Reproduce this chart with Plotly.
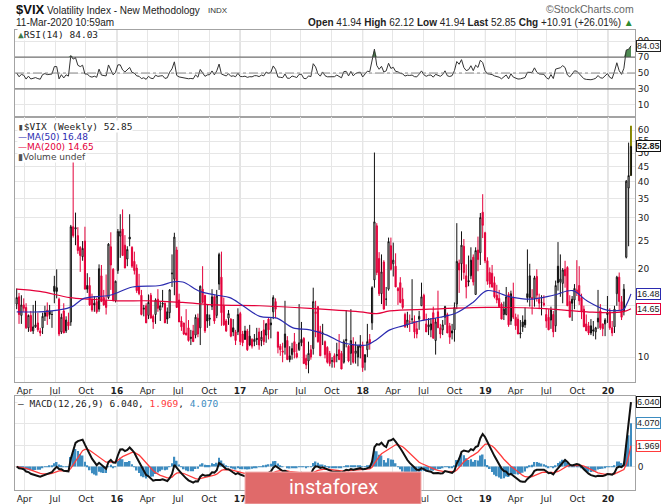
import numpy as np
import pandas as pd
import plotly.graph_objects as go

# weekly $VIX candles, week of 9-Mar-2015 up to the current week (11-Mar-2020)
first_week = "2015-03-09"

opens = [
    # 2015
    15.2, 16.1, 13.9, 15.1, 14.8, 12.6, 13.9, 12.3, 12.7, 13.1, 12.3, 12.6, 13.8, 14.5, 14.4, 14.0,
    17.5, 17.3, 15.8, 12.2, 14.4, 12.3, 13.2, 13.2, 28.0, 27.5, 26.1, 23.8, 22.1, 25.0, 17.6, 17.6,
    15.7, 15.3, 15.5, 14.6, 19.0, 16.0, 15.6, 16.0, 23.9, 20.0, 15.6,
    # 2016
    19.8, 26.0, 27.5, 24.2, 21.7, 25.8, 23.8, 21.3, 20.2, 17.4, 16.3, 14.6, 15.0, 13.9, 16.3, 13.8,
    14.0, 15.8, 14.5, 15.3, 15.3, 14.3, 14.2, 19.3, 18.5, 23.3, 15.7, 13.3, 13.1, 12.1, 12.6, 11.7,
    12.3, 11.9, 13.6, 12.6, 17.1, 16.3, 14.0, 13.6, 14.9, 16.1, 13.9, 17.8, 18.8, 15.0, 13.3, 13.6,
    13.5, 12.6, 12.2, 12.2,
    # 2017
    14.1, 12.0, 12.3, 12.3, 11.8, 11.5, 11.3, 11.6, 12.2, 11.4, 12.4, 11.9, 13.5, 13.1, 14.3, 15.5,
    12.2, 10.9, 10.5, 10.8, 11.4, 10.1, 10.2, 11.3, 10.3, 10.6, 11.5, 11.6, 9.9, 9.7, 10.6, 10.7,
    14.1, 14.9, 12.3, 12.0, 11.3, 10.8, 10.3, 9.7, 10.1, 10.1, 10.6, 10.3, 9.6, 11.5, 10.9, 10.3,
    11.0, 10.3, 10.0, 10.8,
    # 2018
    10.9, 9.6, 10.6, 11.5, 13.1, 18.4, 28.2, 21.8, 16.5, 21.2, 15.8, 17.1, 24.1, 20.9, 20.5, 17.2,
    18.0, 15.8, 14.0, 12.9, 13.2, 13.5, 13.3, 12.5, 13.5, 15.0, 16.3, 13.0, 12.7, 12.4, 14.2, 11.4,
    14.3, 12.6, 12.4, 13.7, 14.0, 12.8, 12.3, 12.4, 15.2, 21.0, 20.9, 24.0, 19.0, 18.3, 19.0, 22.0,
    16.4, 23.3, 22.8, 31.4,
    # 2019
    26.7, 21.4, 19.5, 19.4, 18.0, 16.3, 15.9, 15.2, 14.0, 14.0, 16.4, 13.3, 16.0, 13.7, 13.5, 12.0,
    13.2, 13.4, 16.5, 19.0, 16.0, 15.9, 18.9, 15.8, 15.4, 15.3, 14.0, 13.7, 13.4, 14.0, 12.8, 20.5,
    18.1, 17.9, 20.0, 20.3, 15.5, 15.8, 15.7, 16.6, 17.6, 16.0, 14.6, 13.0, 12.8, 12.8, 12.4, 12.2,
    13.2, 14.4, 13.0, 13.0,
    # 2020
    14.2, 14.3, 12.6, 12.7, 16.5, 18.8, 15.5, 14.3, 22.0, 38.0, 41.94,
]

highs = [
    17.2, 16.6, 16.3, 15.9, 15.3, 14.0, 14.4, 15.1, 15.6, 14.2, 12.6, 14.2, 15.0, 15.4, 15.1, 14.4,
    19.0, 20.0, 16.0, 14.1, 15.3, 13.8, 14.2, 28.4, 53.3, 31.3, 27.9, 24.0, 25.0, 28.0, 19.4, 18.8,
    16.5, 16.2, 16.0, 20.8, 20.7, 17.0, 19.2, 24.6, 26.8, 20.2, 18.3,
    27.5, 30.9, 32.1, 26.2, 24.0, 30.9, 24.0, 23.0, 20.8, 19.3, 17.0, 15.1, 15.3, 16.4, 16.6, 14.0,
    15.9, 17.1, 15.5, 17.0, 15.4, 14.8, 17.1, 22.5, 26.7, 23.9, 16.5, 13.8, 13.1, 14.6, 13.4, 12.4,
    12.9, 14.0, 14.1, 17.6, 20.5, 16.3, 15.1, 14.0, 17.1, 16.3, 17.0, 22.8, 23.0, 16.0, 13.5, 14.5,
    13.6, 13.5, 12.4, 14.7,
    14.3, 12.3, 12.8, 12.5, 12.9, 11.6, 12.0, 12.6, 12.6, 12.3, 13.4, 13.1, 13.6, 13.6, 16.3, 15.9,
    12.2, 11.1, 11.2, 15.6, 11.8, 10.9, 11.2, 12.1, 11.1, 15.2, 13.2, 11.7, 10.2, 11.3, 11.0, 17.3,
    15.6, 14.9, 12.8, 13.0, 11.4, 10.9, 10.5, 10.0, 10.3, 11.2, 12.0, 10.5, 11.5, 14.5, 11.0, 14.6,
    11.7, 11.3, 11.0, 11.9,
    11.3, 10.2, 13.0, 12.0, 17.5, 50.3, 28.8, 22.9, 22.5, 21.5, 17.4, 25.7, 25.7, 24.7, 22.7, 17.4,
    18.8, 17.3, 14.2, 14.3, 14.0, 18.5, 13.9, 13.3, 14.4, 18.0, 16.5, 14.1, 13.6, 13.6, 14.9, 13.6,
    16.9, 13.0, 13.4, 15.0, 14.2, 13.1, 13.0, 15.4, 28.8, 21.6, 27.0, 25.4, 20.8, 22.3, 23.8, 22.5,
    23.8, 25.9, 31.2, 36.2,
    26.9, 22.0, 20.3, 20.7, 18.9, 17.7, 17.0, 15.4, 15.5, 17.4, 16.7, 16.9, 18.0, 14.1, 14.0, 13.4,
    13.9, 14.8, 23.4, 20.9, 17.1, 19.0, 20.0, 16.5, 16.3, 16.3, 14.7, 14.6, 14.9, 14.4, 18.3, 24.8,
    22.5, 20.2, 21.4, 20.5, 16.3, 16.2, 17.8, 21.5, 20.5, 16.5, 15.0, 14.0, 13.2, 13.5, 13.3, 12.7,
    17.0, 15.2, 13.0, 13.6,
    16.2, 14.7, 13.3, 15.0, 19.0, 19.5, 16.2, 17.8, 40.5, 54.4, 62.12,
]

lows = [
    14.6, 13.0, 13.0, 14.3, 12.5, 12.2, 12.2, 12.0, 12.6, 12.2, 11.8, 12.0, 13.3, 12.9, 13.5, 12.6,
    15.3, 15.9, 11.8, 12.0, 12.1, 12.1, 12.4, 12.8, 25.7, 24.2, 22.6, 19.6, 21.4, 17.1, 16.6, 15.0,
    14.3, 14.3, 14.1, 14.3, 15.5, 15.0, 14.0, 15.8, 17.0, 15.5, 15.4,
    19.3, 21.9, 22.3, 20.2, 20.5, 24.0, 20.2, 19.2, 16.6, 16.3, 13.9, 13.8, 13.1, 13.5, 13.6, 12.5,
    13.0, 14.3, 13.3, 14.8, 13.1, 13.0, 13.6, 17.4, 16.3, 14.8, 13.2, 12.3, 11.9, 11.9, 11.3, 11.0,
    11.3, 11.6, 11.7, 11.0, 15.3, 12.1, 12.6, 12.8, 14.5, 13.0, 13.6, 17.0, 12.8, 12.8, 12.2, 12.9,
    11.7, 11.8, 11.0, 11.9,
    11.0, 10.9, 11.5, 10.5, 10.9, 10.7, 10.9, 11.0, 10.6, 10.9, 11.0, 11.2, 11.5, 11.6, 13.5, 13.6,
    10.3, 10.1, 9.6, 10.2, 9.8, 9.6, 9.8, 9.9, 9.9, 10.5, 10.9, 9.5, 9.1, 8.8, 9.8, 10.2,
    11.7, 11.2, 10.1, 11.0, 9.9, 9.5, 9.3, 9.2, 9.2, 9.6, 9.8, 9.1, 9.5, 10.8, 9.6, 9.4,
    9.5, 9.5, 9.3, 9.9,
    8.9, 9.0, 10.0, 10.6, 12.4, 17.3, 19.1, 16.2, 15.2, 14.6, 15.0, 16.9, 19.8, 18.9, 17.4, 15.1,
    15.3, 14.6, 12.6, 12.6, 12.2, 13.0, 11.6, 11.6, 12.4, 15.0, 13.4, 12.2, 11.9, 11.7, 11.6, 10.2,
    12.6, 11.6, 11.9, 12.9, 12.1, 11.1, 11.5, 11.3, 14.6, 16.6, 18.3, 18.5, 15.9, 17.5, 18.5, 17.6,
    16.4, 19.7, 20.7, 25.6,
    21.0, 17.7, 17.3, 17.3, 15.9, 15.3, 14.8, 13.5, 13.4, 13.9, 12.7, 12.9, 13.5, 12.4, 12.0, 11.6,
    12.2, 12.6, 15.4, 14.9, 14.0, 14.9, 15.5, 14.6, 13.9, 14.9, 12.6, 12.4, 12.5, 11.7, 12.2, 16.9,
    16.1, 15.3, 17.3, 15.0, 13.7, 13.3, 14.6, 16.2, 15.1, 13.5, 12.7, 12.3, 11.9, 11.9, 11.8, 11.5,
    12.5, 12.4, 11.8, 11.8,
    13.1, 12.4, 11.8, 12.1, 15.0, 14.5, 13.4, 13.9, 21.8, 24.0, 41.94,
]

closes = [
    16.0, 14.0, 15.1, 14.7, 12.6, 13.9, 12.3, 12.7, 12.9, 12.4, 12.1, 13.8, 14.2, 13.8, 14.0, 14.0,
    16.8, 16.8, 12.0, 13.7, 12.1, 13.4, 12.8, 28.0, 26.1, 27.8, 23.2, 22.3, 23.6, 17.1, 17.1, 15.1,
    14.5, 15.1, 14.3, 20.1, 15.5, 15.1, 14.8, 24.4, 20.7, 15.7, 18.2,
    27.0, 27.0, 22.3, 20.2, 23.4, 25.4, 20.5, 19.8, 16.9, 16.5, 14.0, 14.7, 13.1, 15.4, 13.6, 13.2,
    15.7, 14.7, 15.0, 15.2, 13.1, 13.5, 17.0, 19.4, 25.8, 14.8, 13.2, 12.7, 12.0, 11.9, 11.4, 11.6,
    11.3, 13.7, 12.0, 17.5, 15.4, 12.3, 13.3, 13.5, 16.1, 13.3, 16.2, 22.5, 14.2, 12.9, 12.3, 14.1,
    11.8, 12.2, 11.4, 14.0,
    11.3, 11.2, 11.5, 10.6, 11.0, 10.9, 11.5, 11.5, 11.0, 11.7, 11.3, 13.0, 12.4, 12.9, 16.0, 14.6,
    10.8, 10.6, 10.4, 12.0, 9.8, 9.8, 10.7, 10.4, 10.0, 11.2, 11.2, 9.5, 9.4, 10.3, 10.0, 15.5,
    14.3, 11.3, 10.1, 12.1, 10.2, 9.6, 9.5, 9.7, 9.6, 10.2, 9.8, 9.1, 11.3, 11.4, 9.7, 11.4,
    9.6, 10.5, 10.9, 11.0,
    9.2, 10.2, 11.3, 11.1, 17.3, 29.1, 19.5, 16.5, 19.6, 14.6, 15.8, 24.9, 20.0, 21.5, 17.4, 16.9,
    15.4, 14.8, 12.7, 13.4, 13.2, 13.5, 12.2, 12.0, 13.8, 16.1, 13.4, 12.2, 12.9, 13.0, 11.6, 13.2,
    12.6, 12.0, 12.9, 14.9, 12.1, 11.7, 12.1, 14.8, 21.3, 19.9, 24.2, 19.5, 17.4, 18.1, 21.5, 18.1,
    23.2, 21.6, 30.1, 28.3,
    21.4, 18.2, 17.8, 17.4, 16.1, 15.7, 14.9, 13.5, 14.6, 16.1, 12.9, 16.5, 13.7, 12.8, 12.0, 12.1,
    12.7, 12.9, 16.0, 16.0, 15.9, 18.7, 16.3, 15.3, 15.4, 15.1, 13.3, 12.4, 14.5, 12.2, 17.6, 18.0,
    18.5, 19.9, 19.0, 15.0, 13.7, 15.3, 17.2, 17.0, 15.6, 14.3, 12.7, 12.3, 12.1, 12.1, 12.3, 12.6,
    13.6, 12.6, 12.5, 13.4,
    14.0, 12.6, 12.1, 14.6, 18.8, 15.5, 13.7, 17.1, 40.1, 41.94, 52.85,
]

# moving averages as drawn on the chart
ma50_dates = ["2015-03-09", "2015-05-15", "2015-07-09", "2015-08-21", "2015-09-25", "2015-12-11",
              "2016-02-17", "2016-05-08", "2016-06-15", "2016-07-15", "2016-09-04", "2016-10-24", "2016-12-02",
              "2017-01-10", "2017-03-01", "2017-04-21", "2017-06-08", "2017-07-28", "2017-09-17", "2017-11-03",
              "2017-12-15", "2018-01-14", "2018-02-12", "2018-03-23", "2018-05-01", "2018-06-20", "2018-07-20",
              "2018-08-19", "2018-10-08", "2018-11-25", "2019-01-06", "2019-03-15", "2019-05-13", "2019-07-22",
              "2019-09-18", "2019-10-30", "2019-12-29", "2020-02-17", "2020-02-24", "2020-03-02", "2020-03-09"]
ma50_vals = [14.3, 14.3, 14.5, 14.9, 15.9, 16.3,
             17.4, 17.6, 18.1, 18.1, 16.8, 16.3, 16.0,
             15.0, 13.8, 13.6, 12.6, 12.4, 11.9, 11.2,
             11.0, 11.0, 11.5, 12.4, 12.8, 13.3, 13.5,
             13.7, 14.2, 15.4, 16.9, 16.1, 15.8, 16.3,
             16.9, 15.6, 14.5, 14.6, 15.1, 15.7, 16.48]

ma200_dates = ["2015-03-09", "2015-05-17", "2015-08-14", "2015-10-13", "2016-01-01", "2016-04-08",
               "2016-07-15", "2016-10-24", "2017-03-01", "2017-07-28", "2017-12-24", "2018-02-12",
               "2018-03-23", "2018-07-20", "2019-01-06", "2019-06-12", "2019-10-30", "2020-01-16",
               "2020-02-24", "2020-03-09"]
ma200_vals = [17.1, 16.8, 16.0, 15.8, 15.6, 15.6,
              15.4, 15.1, 15.0, 14.7, 14.3, 14.1,
              14.4, 14.6, 14.8, 14.7, 14.3, 14.2,
              14.4, 14.65]

# indicator readouts printed on the chart
rsi_last = 84.03
macd_last, signal_last, hist_last = 6.040, 1.969, 4.070

tick_dates = ["2015-04-01", "2015-07-01", "2015-10-01", "2016-01-01", "2016-04-01", "2016-07-01",
              "2016-10-01", "2017-01-01", "2017-04-01", "2017-07-01", "2017-10-01", "2018-01-01",
              "2018-04-01", "2018-07-01", "2018-10-01", "2019-01-01", "2019-04-01", "2019-07-01",
              "2019-10-01", "2020-01-01"]
tick_text = ["Apr", "Jul", "Oct", "<b>16</b>", "Apr", "Jul", "Oct", "<b>17</b>", "Apr", "Jul", "Oct",
             "<b>18</b>", "Apr", "Jul", "Oct", "<b>19</b>", "Apr", "Jul", "Oct", "<b>20</b>"]

dates = pd.date_range(first_week, periods=len(closes), freq="7D")
o, h, l, c = (np.array(v, dtype=float) for v in (opens, highs, lows, closes))

# RSI(14), Wilder smoothing, starting from a neutral state
delta = np.diff(c, prepend=c[0])
avg_gain = avg_loss = 0.8
rsi = []
for d in delta:
    avg_gain = (avg_gain * 13 + max(d, 0)) / 14
    avg_loss = (avg_loss * 13 + max(-d, 0)) / 14
    rsi.append(100 - 100 / (1 + avg_gain / avg_loss))
rsi = np.array(rsi)

# MACD(12,26,9)
cs = pd.Series(c)
macd = cs.ewm(span=12, adjust=False).mean() - cs.ewm(span=26, adjust=False).mean()
signal = macd.ewm(span=9, adjust=False).mean()
hist = macd - signal

# canvas geometry: positions are given in reference pixels (665x504); the page
# is photographed from a slightly taller viewport, so the figure is stretched to it
REF_H = 504
VIEW_H = 516
K = VIEW_H / REF_H
W, H = 665, VIEW_H
ML, MR, MT, MB = 15, 30, 29 * K, 14 * K


def fx(px):
    return (px - ML) / (W - ML - MR)


def fy(py):
    return (490 - py) / 461


RED = "#e4003a"
BLUE = "#2b2bb0"
HIST = "#3d8cc0"

fig = go.Figure()

# ---- RSI panel
fig.add_trace(go.Scatter(x=dates, y=np.full(len(dates), 70.0), mode="lines",
                         line=dict(width=0), xaxis="x", yaxis="y", hoverinfo="skip"))
fig.add_trace(go.Scatter(x=dates, y=np.maximum(rsi, 70), mode="lines", line=dict(width=0),
                         fill="tonexty", fillcolor="#4e8a52", xaxis="x", yaxis="y", hoverinfo="skip"))
fig.add_trace(go.Scatter(x=dates, y=rsi, mode="lines", line=dict(color="#333333", width=1),
                         xaxis="x", yaxis="y"))

# ---- price panel: black = close above prior close, red = below; hollow = close above open
prev = np.r_[c[0], c[:-1]]
up = c >= prev
past = np.arange(len(c)) < len(c) - 1
for mask, col in ((up & past, "#111111"), (~up & past, RED)):
    fig.add_trace(go.Candlestick(
        x=dates[mask], open=o[mask], high=h[mask], low=l[mask], close=c[mask],
        increasing=dict(line=dict(color=col, width=1), fillcolor="white"),
        decreasing=dict(line=dict(color=col, width=1), fillcolor=col),
        whiskerwidth=0, xaxis="x2", yaxis="y2", hoverinfo="skip"))

# current bar highlighted in yellow
fig.add_trace(go.Bar(x=dates[-1:], y=h[-1:] - l[-1:], base=l[-1:], width=4.5 * 86400000,
                     marker=dict(color="#ffff00", line=dict(width=0)), xaxis="x2", yaxis="y2"))
fig.add_trace(go.Candlestick(
    x=dates[-1:], open=o[-1:], high=h[-1:], low=l[-1:], close=c[-1:],
    increasing=dict(line=dict(color="#111111", width=1), fillcolor="rgba(0,0,0,0)"),
    decreasing=dict(line=dict(color="#111111", width=1), fillcolor="#111111"),
    whiskerwidth=0, xaxis="x2", yaxis="y2", hoverinfo="skip"))

fig.add_trace(go.Scatter(x=ma200_dates, y=ma200_vals, mode="lines", line=dict(color=RED, width=1.2, shape="spline"),
                         xaxis="x2", yaxis="y2"))
fig.add_trace(go.Scatter(x=ma50_dates, y=ma50_vals, mode="lines", line=dict(color=BLUE, width=1.2, shape="spline"),
                         xaxis="x2", yaxis="y2"))

# ---- MACD panel
fig.add_trace(go.Bar(x=dates, y=hist, marker=dict(color=HIST, line=dict(width=0)), xaxis="x3", yaxis="y3"))
fig.add_trace(go.Scatter(x=dates, y=signal, mode="lines", line=dict(color="#ff3b3b", width=1.3),
                         xaxis="x3", yaxis="y3"))
fig.add_trace(go.Scatter(x=dates, y=macd, mode="lines", line=dict(color="#111111", width=2),
                         xaxis="x3", yaxis="y3"))

x_range = ["2015-03-04", "2020-03-21"]
axis_font = dict(family="DejaVu Sans", size=9, color="#222222")
xbase = dict(type="date", range=x_range, tickvals=tick_dates, ticktext=tick_text, showgrid=True,
             gridcolor="#e6e6e6", showline=True, mirror=True, linecolor="#a3a3a3", ticks="",
             zeroline=False, tickfont=axis_font, rangeslider=dict(visible=False), fixedrange=True)
ybase = dict(side="right", showgrid=True, gridcolor="#e6e6e6", showline=True, mirror=True,
             linecolor="#a3a3a3", ticks="", zeroline=False, tickfont=axis_font, fixedrange=True)

fig.update_layout(
    width=W, height=H, margin=dict(l=ML, r=MR, t=MT, b=MB),
    paper_bgcolor="white", plot_bgcolor="white", showlegend=False, bargap=0.3,
    font=dict(family="DejaVu Sans", size=9, color="#222222"),
    xaxis=dict(xbase, anchor="y", showticklabels=False),
    xaxis2=dict(xbase, anchor="y2", matches="x"),
    xaxis3=dict(xbase, anchor="y3", matches="x"),
    yaxis=dict(ybase, domain=[fy(116), 1], range=[-5, 104], tickvals=[10, 30, 50, 70, 90]),
    yaxis2=dict(ybase, domain=[fy(382), fy(116)], type="log", range=[np.log10(8.2), np.log10(66.7)],
                tickvals=[10, 15, 20, 25, 30, 35, 40, 45, 50, 55, 60],
                ticktext=["10", "", "20", "25", "30", "35", "40", "45", "50", "55", "60"]),
    yaxis3=dict(ybase, domain=[0, fy(396)], range=[-2.2, 6.6], tickvals=[0, 2, 4, 6],
                ticktext=["0", "", "", ""]),
)

# RSI guide lines
for lvl, colr, dash in ((70, "#555555", "solid"), (30, "#555555", "solid"), (50, "#8a8a8a", "dashdot")):
    fig.add_shape(type="line", xref="x domain", yref="y", x0=0, x1=1, y0=lvl, y1=lvl,
                  line=dict(color=colr, width=1, dash=dash))

# darker year lines
for d, t in zip(tick_dates, tick_text):
    if t.startswith("<b>"):
        for xr, yr in (("x", "y domain"), ("x2", "y2 domain"), ("x3", "y3 domain")):
            fig.add_shape(type="line", xref=xr, yref=yr, x0=d, x1=d, y0=0, y1=1,
                          line=dict(color="#bdbdbd", width=1), layer="below")


def tag(yref, yval, text, border, bold=False):
    fig.add_annotation(xref="paper", yref=yref, x=1, y=yval, xanchor="left", yanchor="middle", xshift=1,
                       text=f"<b>{text}</b>" if bold else text, showarrow=False,
                       font=dict(family="Liberation Sans", size=9, color="#1a1a1a"),
                       bgcolor="white", bordercolor=border, borderwidth=1, borderpad=0)


tag("y", rsi_last, f"{rsi_last:.2f}", "#222222")
tag("y2", np.log10(c[-1]), f"{c[-1]:.2f}", "#111111", bold=True)
tag("y2", np.log10(ma50_vals[-1]), f"{ma50_vals[-1]:.2f}", BLUE)
tag("y2", np.log10(ma200_vals[-1]), f"{ma200_vals[-1]:.2f}", RED)
tag("y3", macd_last, f"{macd_last:.3f}", "#111111")
tag("y3", hist_last, f"{hist_last:.3f}", HIST)
tag("y3", signal_last, f"{signal_last:.3f}", "#ff3b3b")


def note(px, py, text, size=9.5, color="#222222", family="DejaVu Sans Mono", anchor="left", bg=None):
    fig.add_annotation(xref="paper", yref="paper", x=fx(px), y=fy(py), xanchor=anchor, yanchor="middle",
                       text=text, showarrow=False, font=dict(family=family, size=size, color=color),
                       bgcolor=bg, borderpad=0)


# header
sans = "Liberation Sans"
note(15, 8, "<b>$VIX</b>", size=13, family=sans, color="#111111")
note(46, 9, "Volatility Index - New Methodology", size=10, family=sans, color="#222222")
note(207, 9, "INDX", size=8, family=sans, color="#333333")
note(635, 8, "©StockCharts.com", size=10.5, family=sans, color="#666666", anchor="right")
note(15, 21, "11-Mar-2020 10:59am", size=10, family=sans, color="#222222")
chg = c[-1] - c[-2]
note(635, 21, (f"<b>Open</b> {o[-1]:.2f} <b>High</b> {h[-1]:.2f} <b>Low</b> {l[-1]:.2f} "
               f"<b>Last</b> {c[-1]:.2f} <b>Chg</b> +{chg:.2f} (+{chg / c[-2] * 100:.2f}%) "
               "<span style='color:#2e8b2e'>▲</span>"), size=10, family=sans, anchor="right")

# panel legends
note(17, 34, "<span style='color:#3f7a45'>▲</span>RSI(14) 84.03", bg="white")
note(17, 126, "<span style='color:#444'>▮</span>$VIX (Weekly) 52.85", bg="white")
note(17, 136, f"<span style='color:{BLUE}'>—MA(50) {ma50_vals[-1]:.2f}</span>", size=9, family="DejaVu Sans",
     bg="white")
note(17, 146, f"<span style='color:{RED}'>—MA(200) {ma200_vals[-1]:.2f}</span>", size=9, family="DejaVu Sans",
     bg="white")
note(17, 156, "<span style='color:#555'>▮</span>Volume undef", size=9, family="DejaVu Sans", color="#444444",
     bg="white")
note(17, 403, (f"— MACD(12,26,9) {macd_last:.3f}, <span style='color:#ff3b3b'>{signal_last:.3f}</span>, "
               f"<span style='color:{HIST}'>{hist_last:.3f}</span>"), bg="white")

# watermark
fig.add_shape(type="rect", xref="paper", yref="paper", x0=fx(245), x1=fx(421), y0=fy(504), y1=fy(472),
              fillcolor="#e06a6a", line=dict(color="#f2b0b0", width=1), layer="above")
fig.add_annotation(xref="paper", yref="paper", x=fx(333), y=fy(487), text="instaforex", showarrow=False,
                   font=dict(family="Roboto", size=20, color="white"), xanchor="center", yanchor="middle")

# no page margin, nothing scrolls
page_css = ("var s = document.createElement('style');"
            "s.textContent = 'html,body{margin:0;padding:0;overflow:hidden}';"
            "document.head.appendChild(s);")
fig.write_html("out.html", config={"displayModeBar": False}, post_script=page_css)
